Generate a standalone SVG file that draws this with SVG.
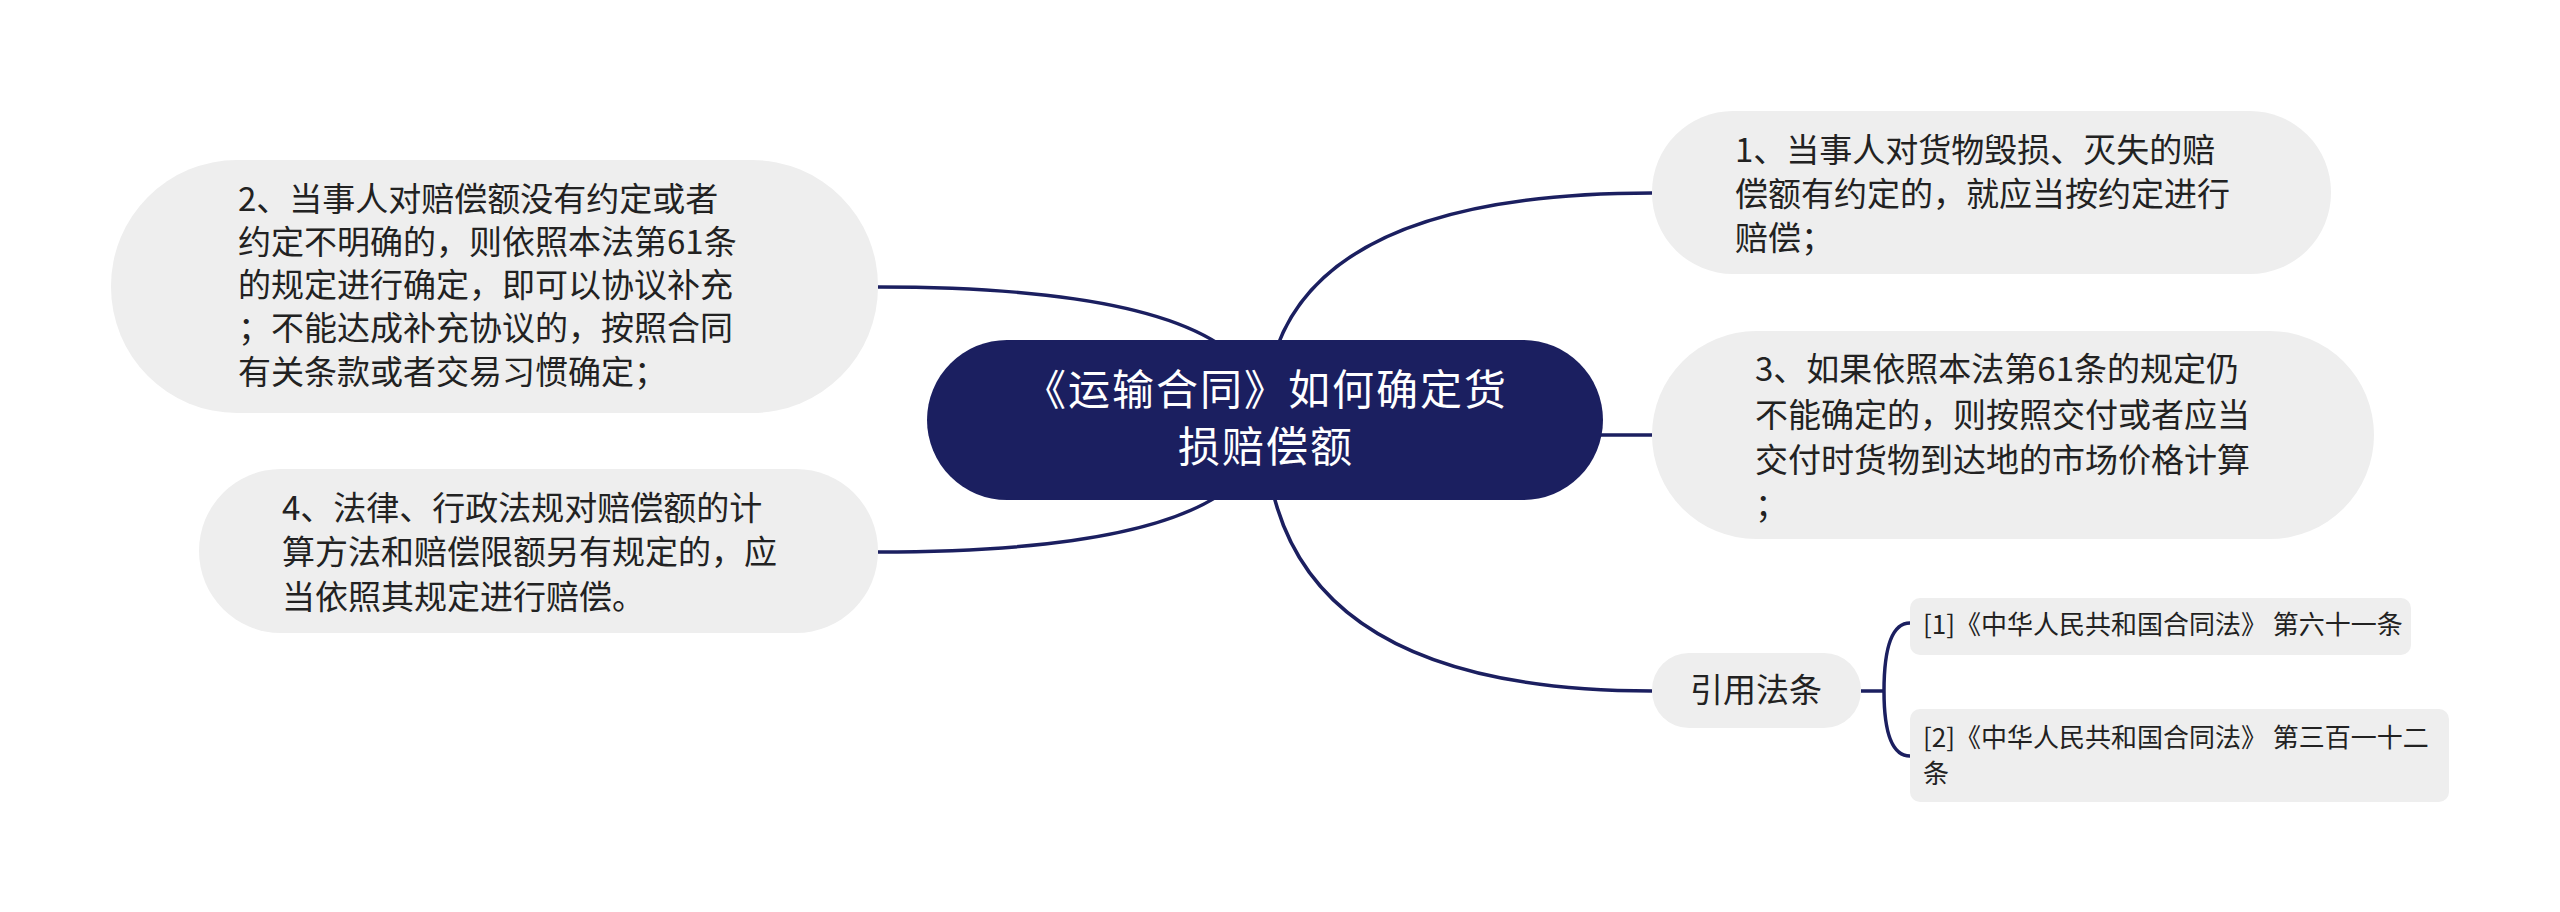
<svg xmlns="http://www.w3.org/2000/svg" width="2560" height="912" viewBox="0 0 2560 912">
<style>
.bg{fill:#ffffff}
.node{fill:#eeeeee}
.root{fill:#1b1f60}
.link{fill:none;stroke:#1b1f60;stroke-width:3.5}
.t{font-family:"Noto Sans CJK SC","Noto Sans",sans-serif;font-size:33px;fill:#222222}
.rt{font-family:"Noto Sans CJK SC","Noto Sans",sans-serif;font-size:42px;letter-spacing:2px;fill:#ffffff;text-anchor:middle}
.st{font-family:"Noto Sans CJK SC","Noto Sans",sans-serif;font-size:26px;fill:#222222}
</style>
<rect class="bg" x="0" y="0" width="2560" height="912"/>
<g id="connectors">
<path class="link" d="M1265 420 Q1265 287 878 287"/>
<path class="link" d="M1265 420 Q1265 552 878 552"/>
<path class="link" d="M1265 420 Q1265 193 1652 193"/>
<path class="link" d="M1265 420 Q1265 435 1652 435"/>
<path class="link" d="M1265 420 Q1265 691 1652 691"/>
<path class="link" d="M1861 691 L1884 691"/>
<path class="link" d="M1884 691 Q1884 623 1910 623"/>
<path class="link" d="M1884 691 Q1884 756 1910 756"/>
</g>
<g id="root">
<rect class="root" x="927" y="340" width="676" height="160" rx="80"/>
<text class="rt"><tspan x="1266" y="405">《运输合同》如何确定货</tspan><tspan x="1266" y="462">损赔偿额</tspan></text>
</g>
<g id="n2">
<rect class="node" x="111" y="160" width="767" height="253" rx="126"/>
<text class="t"><tspan x="238" y="211">2、当事人对赔偿额没有约定或者</tspan><tspan x="238" y="254">约定不明确的，则依照本法第61条</tspan><tspan x="238" y="297">的规定进行确定，即可以协议补充</tspan><tspan x="238" y="340">；不能达成补充协议的，按照合同</tspan><tspan x="238" y="384">有关条款或者交易习惯确定；</tspan></text>
</g>
<g id="n4">
<rect class="node" x="199" y="469" width="679" height="164" rx="82"/>
<text class="t"><tspan x="282" y="520">4、法律、行政法规对赔偿额的计</tspan><tspan x="282" y="564">算方法和赔偿限额另有规定的，应</tspan><tspan x="282" y="609">当依照其规定进行赔偿。</tspan></text>
</g>
<g id="n1">
<rect class="node" x="1652" y="111" width="679" height="163" rx="81"/>
<text class="t"><tspan x="1735" y="162">1、当事人对货物毁损、灭失的赔</tspan><tspan x="1735" y="206">偿额有约定的，就应当按约定进行</tspan><tspan x="1735" y="250">赔偿；</tspan></text>
</g>
<g id="n3">
<rect class="node" x="1652" y="331" width="722" height="208" rx="104"/>
<text class="t"><tspan x="1755" y="381">3、如果依照本法第61条的规定仍</tspan><tspan x="1755" y="427">不能确定的，则按照交付或者应当</tspan><tspan x="1755" y="472">交付时货物到达地的市场价格计算</tspan><tspan x="1755" y="517">；</tspan></text>
</g>
<g id="refs">
<rect class="node" x="1652" y="653" width="209" height="75" rx="37"/>
<text class="t" x="1756" y="702" text-anchor="middle">引用法条</text>
</g>
<g id="ref1">
<rect class="node" x="1910" y="598" width="501" height="57" rx="10"/>
<text class="st" x="1923" y="634">[1]《中华人民共和国合同法》 第六十一条</text>
</g>
<g id="ref2">
<rect class="node" x="1910" y="709" width="539" height="93" rx="10"/>
<text class="st"><tspan x="1923" y="747">[2]《中华人民共和国合同法》 第三百一十二</tspan><tspan x="1923" y="783">条</tspan></text>
</g>
</svg>
